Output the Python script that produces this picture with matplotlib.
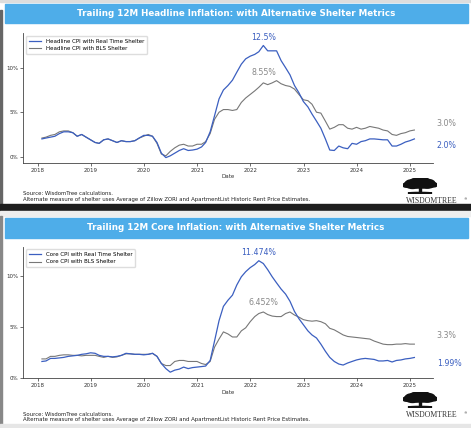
import pandas as pd
import matplotlib
matplotlib.use("Agg")
import matplotlib.pyplot as plt
import matplotlib.dates as mdates
from matplotlib.patches import Rectangle, Ellipse
from matplotlib.ticker import FuncFormatter

# monthly observations, Jan 2018 .. Jan 2025 (month end)
dates = pd.date_range("2018-01-31", "2025-01-31", freq="ME")

headline_rt = [2.0, 2.1, 2.2, 2.3, 2.6, 2.8, 2.8, 2.7, 2.3, 2.5, 2.2, 1.9,
               1.6, 1.5, 1.9, 2.0, 1.8, 1.6, 1.8, 1.7, 1.7, 1.8, 2.1, 2.4,
               2.4, 2.3, 1.6, 0.4, -0.1, 0.1, 0.4, 0.7, 0.9, 0.7, 0.75, 0.85,
               1.1, 1.6, 2.8, 4.6, 6.5, 7.5, 8.0, 8.6, 9.5, 10.4, 11.0, 11.3,
               11.5, 11.8, 12.5, 11.9, 11.9, 11.9, 10.8, 10.0, 9.2, 8.0, 7.2, 6.2,
               5.6, 4.8, 4.0, 3.2, 2.0, 0.75, 0.7, 1.2, 1.0, 0.9, 1.5, 1.4,
               1.7, 1.8, 2.0, 2.0, 1.95, 1.9, 1.9, 1.2, 1.2, 1.4, 1.65, 1.8,
               2.0]
headline_bls = [2.1, 2.2, 2.4, 2.5, 2.8, 2.9, 2.9, 2.7, 2.3, 2.5, 2.2, 1.9,
                1.6, 1.5, 1.9, 2.0, 1.8, 1.6, 1.8, 1.7, 1.7, 1.8, 2.1, 2.3,
                2.5, 2.3, 1.5, 0.3, 0.1, 0.6, 1.0, 1.3, 1.4, 1.2, 1.2, 1.4,
                1.4, 1.7, 2.6, 4.2, 5.0, 5.3, 5.3, 5.2, 5.3, 6.1, 6.6, 7.0,
                7.4, 7.8, 8.3, 8.1, 8.3, 8.55, 8.2, 8.0, 7.9, 7.6, 7.0, 6.4,
                6.3, 5.9, 5.0, 4.9, 4.0, 3.1, 3.3, 3.6, 3.6, 3.2, 3.1, 3.3,
                3.1, 3.2, 3.4, 3.3, 3.2, 3.0, 2.9, 2.5, 2.4, 2.6, 2.7, 2.9,
                3.0]

core_rt = [1.6, 1.65, 1.9, 1.9, 1.95, 2.0, 2.1, 2.15, 2.2, 2.3, 2.35, 2.45,
           2.4, 2.2, 2.1, 2.1, 2.05, 2.1, 2.2, 2.4, 2.35, 2.3, 2.3, 2.25,
           2.3, 2.4, 2.1, 1.4, 0.9, 0.55, 0.75, 0.85, 1.05, 0.9, 1.0, 1.05,
           1.1, 1.15, 1.7, 3.6, 5.6, 7.0, 7.6, 8.1, 9.1, 9.9, 10.4, 10.8,
           11.1, 11.474, 11.2, 10.6, 9.9, 9.3, 8.7, 8.2, 7.5, 6.5, 5.8, 5.2,
           4.6, 4.2, 3.9, 3.3, 2.6, 2.0, 1.6, 1.35, 1.25, 1.45, 1.6, 1.75,
           1.85, 1.9, 1.85, 1.8, 1.65, 1.65, 1.7, 1.55, 1.7, 1.75, 1.85, 1.9,
           1.99]
core_bls = [1.85, 1.85, 2.1, 2.1, 2.2, 2.25, 2.25, 2.2, 2.2, 2.15, 2.2, 2.2,
            2.2, 2.1, 2.0, 2.1, 2.0, 2.05, 2.2, 2.35, 2.35, 2.3, 2.3, 2.3,
            2.3, 2.4, 2.1, 1.4, 1.2, 1.2, 1.6, 1.7, 1.7, 1.6, 1.6, 1.6,
            1.4, 1.3, 1.6, 3.0, 3.8, 4.5, 4.3, 4.0, 4.0, 4.6, 4.9, 5.5,
            6.0, 6.3, 6.452, 6.2, 6.05, 6.0, 6.0, 6.3, 6.45, 6.15, 5.95, 5.7,
            5.6, 5.55, 5.6, 5.5, 5.3, 4.85, 4.7, 4.45, 4.2, 4.05, 4.0, 3.95,
            3.9, 3.85, 3.8, 3.6, 3.45, 3.3, 3.25, 3.25, 3.3, 3.3, 3.35, 3.3,
            3.3]

BLUE = "#3b5fc0"
GRAY = "#777777"
BAR = "#4eade9"

W, H = 471, 428
fig = plt.figure(figsize=(W / 100, H / 100), dpi=100)


def box(x0, y0, x1, y1):
    # pixel box -> figure fraction [left, bottom, width, height]
    return [x0 / W, 1 - y1 / H, (x1 - x0) / W, (y1 - y0) / H]


def rect(x0, y0, x1, y1, color):
    fig.patches.append(Rectangle((x0 / W, 1 - y1 / H), (x1 - x0) / W, (y1 - y0) / H,
                                 transform=fig.transFigure, color=color, zorder=0))


def logo(cx, cy, ty):
    lax = fig.add_axes(box(cx - 17, cy - 8, cx + 17, cy + 8))
    lax.set_xlim(0, 1)
    lax.set_ylim(0, 1)
    lax.axis("off")
    for x, y, w, h in [(0.5, 0.62, 0.9, 0.5), (0.28, 0.62, 0.45, 0.55), (0.72, 0.64, 0.45, 0.55),
                       (0.5, 0.82, 0.55, 0.3), (0.1, 0.55, 0.22, 0.25), (0.9, 0.57, 0.22, 0.25),
                       (0.35, 0.88, 0.2, 0.15), (0.65, 0.9, 0.2, 0.15)]:
        lax.add_patch(Ellipse((x, y), w, h, color="#111111"))
    lax.add_patch(Rectangle((0.46, 0.05), 0.08, 0.4, color="#111111"))
    lax.add_patch(Ellipse((0.5, 0.06), 0.7, 0.08, color="#111111"))
    fig.text(432 / W, 1 - ty / H, "WISDOMTREE", fontsize=5.6, family="Liberation Serif",
             color="#333333", ha="center", va="center")
    fig.text(465 / W, 1 - (ty - 1.5) / H, "\u00ae", fontsize=2.5, color="#333333", ha="center", va="center")


def panel(bar_y, ax_box, title, lab_rt, lab_bls, rt, bls, ylim, text_y, date_y, logo_y,
          off_rt, off_bls, end_rt, end_bls):
    rect(5, bar_y[0], 468, bar_y[1], BAR)
    fig.text(236 / W, 1 - (sum(bar_y) / 2) / H, title, color="white", fontsize=6.3,
             fontweight="bold", ha="center", va="center")

    ax = fig.add_axes(box(*ax_box))
    ax.plot(dates, rt, color=BLUE, lw=0.9, label=lab_rt, zorder=3)
    ax.plot(dates, bls, color=GRAY, lw=0.8, label=lab_bls, zorder=2)
    ax.set_ylim(*ylim)
    ax.set_yticks([0, 5, 10])
    ax.yaxis.set_major_formatter(FuncFormatter(lambda v, p: f"{v:.0f}%"))
    ax.xaxis.set_major_locator(mdates.YearLocator())
    ax.xaxis.set_major_formatter(mdates.DateFormatter("%Y"))
    ax.tick_params(labelsize=4, length=2, width=0.5, pad=1.5, colors="#333333")
    for s in ["top", "right"]:
        ax.spines[s].set_visible(False)
    for s in ["left", "bottom"]:
        ax.spines[s].set_linewidth(0.6)
        ax.spines[s].set_color("#444444")
    ax.legend(loc="upper left", fontsize=4, frameon=True, handlelength=2.2,
              borderpad=0.5, labelspacing=0.4, framealpha=1, edgecolor="#dddddd",
              bbox_to_anchor=(0.0, 1.0))

    i_rt = rt.index(max(rt))
    i_bls = bls.index(max(bls))
    ax.annotate(f"{rt[i_rt]}%", xy=(dates[i_rt], rt[i_rt]), xytext=off_rt, textcoords="offset points",
                ha="center", va="center", fontsize=5.7, color=BLUE)
    ax.annotate(f"{bls[i_bls]}%", xy=(dates[i_bls], bls[i_bls]), xytext=off_bls, textcoords="offset points",
                ha="center", va="center", fontsize=5.7, color="#888888")
    ax.annotate(end_rt[0], xy=(dates[-1], rt[-1]), xytext=end_rt[1], textcoords="offset points",
                ha="center", va="center", fontsize=5.7, color=BLUE, annotation_clip=False)
    ax.annotate(end_bls[0], xy=(dates[-1], bls[-1]), xytext=end_bls[1], textcoords="offset points",
                ha="center", va="center", fontsize=5.7, color="#888888", annotation_clip=False)

    fig.text(228 / W, 1 - date_y / H, "Date", fontsize=4, color="#333333", ha="center", va="center")
    fig.text(23 / W, 1 - text_y / H, "Source: WisdomTree calculations.", fontsize=3.9,
             color="#222222", ha="left", va="center")
    fig.text(23 / W, 1 - (text_y + 6) / H,
             "Alternate measure of shelter uses Average of Zillow ZORI and ApartmentList Historic Rent Price Estimates.",
             fontsize=3.9, color="#222222", ha="left", va="center")
    logo(420, logo_y, logo_y + 15)
    return ax


# frame bits
rect(0, 0, W, 1.5, "#dddddd")
rect(0, 10, 1.5, 204, "#666666")
rect(0, 204, W, 211, "#1e1e1e")
rect(0, 211, W, 216, "#eeeeee")
rect(0, 216, 1.5, 424, "#888888")
rect(0, 424, W, H, "#e6e6e6")

panel((4, 23), (23.3, 33.3, 433, 163.3),
      "Trailing 12M Headline Inflation: with Alternative Shelter Metrics",
      "Headline CPI with Real Time Shelter", "Headline CPI with BLS Shelter",
      headline_rt, headline_bls, (-0.74, 13.87), 193.3, 176.7, 186,
      (0, 6), (-9, 6), ("2.0%", (23, -4.5)), ("3.0%", (23, 5)))

panel((218, 238), (23.3, 246.7, 433, 378.3),
      "Trailing 12M Core Inflation: with Alternative Shelter Metrics",
      "Core CPI with Real Time Shelter", "Core CPI with BLS Shelter",
      core_rt, core_bls, (-0.05, 12.85), 414, 392.3, 400,
      (0, 6), (0, 6.5), ("1.99%", (25, -4.5)), ("3.3%", (23, 6)))

fig.savefig("out.png", dpi=100)
